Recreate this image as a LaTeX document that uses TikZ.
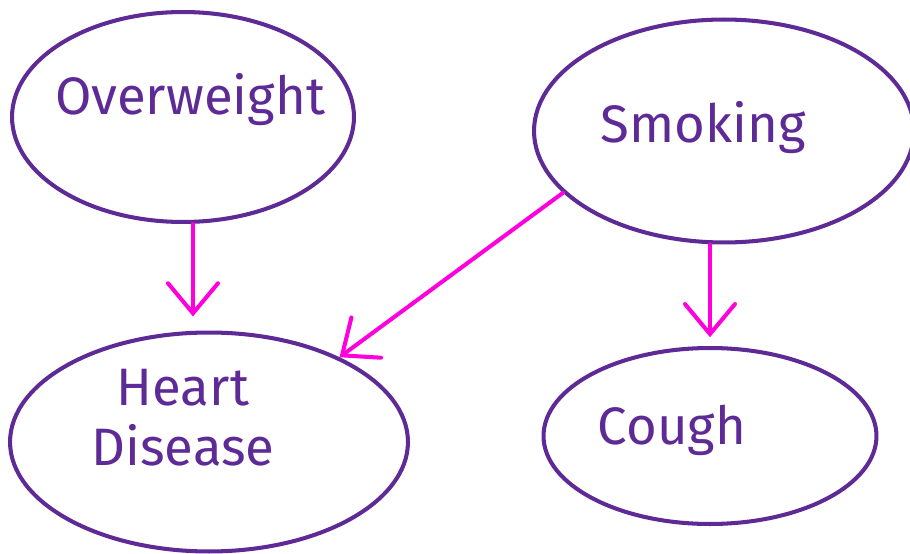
\documentclass[tikz,border=0pt]{standalone}
\usepackage{fontspec}
\setmainfont{Fira Sans}
\usetikzlibrary{shapes.geometric,arrows.meta}
\definecolor{ink}{HTML}{5E2A96}
\definecolor{pen}{HTML}{FF00DD}

\begin{document}
\begin{tikzpicture}[x=0.02cm,y=-0.02cm,
  blob/.style={ellipse,draw=ink,line width=2.3pt,inner sep=0pt},
  word/.style={text=ink,font=\fontsize{30}{34}\selectfont,align=center},
  link/.style={draw=pen,line width=2.3pt,line cap=round,
    -{Straight Barb[length=0.6cm,width=1.0cm,line cap=round]}}]
\useasboundingbox (0,0) rectangle (910,554);
\node[blob,minimum width=6.84cm,minimum height=4.2cm] (over) at (183,117) {};
\node[blob,minimum width=7.6cm,minimum height=4.46cm] (smok) at (724,131) {};
\node[blob,minimum width=7.96cm,minimum height=4.38cm] (heart) at (209,442) {};
\node[blob,minimum width=6.66cm,minimum height=3.52cm] (cough) at (710,436) {};
\node[word] (overtxt) at (190,100) {Overweight};
\node[word] (smoktxt) at (703,128) {Smoking};
\node[word] (hearttxt) at (183,418) {Heart\\Disease};
\node[word] (coughtxt) at (672,430) {Cough};
\draw[link,shorten >=8pt] (over.south) ++(10,0) coordinate (o1) -- (o1 |- heart.north);
\draw[link] (smok.201) -- (heart.33);
\draw[link,shorten >=5pt] (smok.south) ++(-14,0) coordinate (s1) -- (s1 |- cough.north);
\end{tikzpicture}
\end{document}
